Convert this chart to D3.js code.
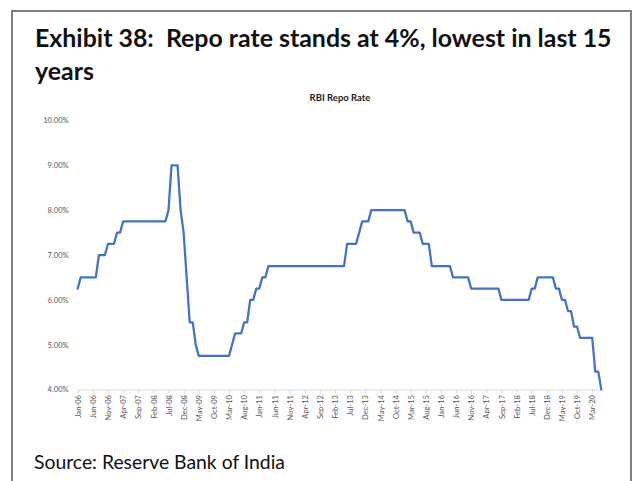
<!DOCTYPE html>
<html>
<head>
<meta charset="utf-8">
<script src="https://cdn.jsdelivr.net/npm/d3@7"></script>
<style>
  body { margin: 0; background: #ffffff; }
  svg { display: block; font-family: Lato, "Open Sans", "Noto Sans", sans-serif; }
  .keep-spaces { white-space: pre; }
</style>
</head>
<body>
<svg id="chart" width="636" height="481"></svg>
<script>
// Monthly categories, Jan-06 through Jun-20
const firstMonth = new Date(2006, 0, 1);
const afterLastMonth = new Date(2020, 6, 1);
const months = d3.timeMonth.range(firstMonth, afterLastMonth).map(d3.timeFormat("%b-%y"));

// RBI repo rate (%), one value per month
const repoRate = [
  6.25, 6.5, 6.5, 6.5, 6.5, 6.5, 6.5, 7.0, 7.0, 7.0, 7.25, 7.25,            // 2006
  7.25, 7.5, 7.5, 7.75, 7.75, 7.75, 7.75, 7.75, 7.75, 7.75, 7.75, 7.75,     // 2007
  7.75, 7.75, 7.75, 7.75, 7.75, 7.75, 8.0, 9.0, 9.0, 9.0, 8.0, 7.5,         // 2008
  6.5, 5.5, 5.5, 5.0, 4.75, 4.75, 4.75, 4.75, 4.75, 4.75, 4.75, 4.75,       // 2009
  4.75, 4.75, 4.75, 5.0, 5.25, 5.25, 5.25, 5.5, 5.5, 6.0, 6.0, 6.25,        // 2010
  6.25, 6.5, 6.5, 6.75, 6.75, 6.75, 6.75, 6.75, 6.75, 6.75, 6.75, 6.75,     // 2011
  6.75, 6.75, 6.75, 6.75, 6.75, 6.75, 6.75, 6.75, 6.75, 6.75, 6.75, 6.75,   // 2012
  6.75, 6.75, 6.75, 6.75, 6.75, 7.25, 7.25, 7.25, 7.25, 7.5, 7.75, 7.75,    // 2013
  7.75, 8.0, 8.0, 8.0, 8.0, 8.0, 8.0, 8.0, 8.0, 8.0, 8.0, 8.0,              // 2014
  8.0, 7.75, 7.75, 7.5, 7.5, 7.5, 7.25, 7.25, 7.25, 6.75, 6.75, 6.75,       // 2015
  6.75, 6.75, 6.75, 6.75, 6.5, 6.5, 6.5, 6.5, 6.5, 6.5, 6.25, 6.25,         // 2016
  6.25, 6.25, 6.25, 6.25, 6.25, 6.25, 6.25, 6.25, 6.0, 6.0, 6.0, 6.0,       // 2017
  6.0, 6.0, 6.0, 6.0, 6.0, 6.0, 6.25, 6.25, 6.5, 6.5, 6.5, 6.5,             // 2018
  6.5, 6.5, 6.25, 6.25, 6.0, 6.0, 5.75, 5.75, 5.4, 5.4, 5.15, 5.15,         // 2019
  5.15, 5.15, 5.15, 4.4, 4.4, 4.0                                           // 2020
];

// Labelled categories on the x axis (every fifth month)
const xTickLabels = [
  "Jan-06", "Jun-06", "Nov-06", "Apr-07", "Sep-07", "Feb-08", "Jul-08", "Dec-08",
  "May-09", "Oct-09", "Mar-10", "Aug-10", "Jan-11", "Jun-11", "Nov-11", "Apr-12",
  "Sep-12", "Feb-13", "Jul-13", "Dec-13", "May-14", "Oct-14", "Mar-15", "Aug-15",
  "Jan-16", "Jun-16", "Nov-16", "Apr-17", "Sep-17", "Feb-18", "Jul-18", "Dec-18",
  "May-19", "Oct-19", "Mar-20"
];
const yTickValues = [4, 5, 6, 7, 8, 9, 10];

const titleLines = ["Exhibit 38:  Repo rate stands at 4%, lowest in last 15", "years"];
const chartTitle = "RBI Repo Rate";
const sourceNote = "Source: Reserve Bank of India";

const svg = d3.select("#chart");

// Exhibit frame (open at the bottom)
svg.append("path")
  .attr("d", "M12,481 V11 H631 V481")
  .attr("fill", "none")
  .attr("stroke", "#7f7f7f")
  .attr("stroke-width", 2);

// Scale a text run's font size so it spans the given width
function fitText(sel, targetWidth) {
  const node = sel.node();
  const fs = parseFloat(sel.attr("font-size"));
  const w = node.getComputedTextLength();
  sel.attr("font-size", (fs * targetWidth / w).toFixed(2));
}

const t1 = svg.append("text")
  .attr("class", "keep-spaces")
  .attr("x", 35).attr("y", 47)
  .attr("font-size", 22).attr("font-weight", 700).attr("fill", "#111")
  .text(titleLines[0]);
fitText(t1, 577);
svg.append("text")
  .attr("x", 35).attr("y", 79.5)
  .attr("font-size", t1.attr("font-size")).attr("font-weight", 700).attr("fill", "#111")
  .text(titleLines[1]);

const src = svg.append("text")
  .attr("x", 34).attr("y", 469)
  .attr("font-size", 18).attr("fill", "#111")
  .text(sourceNote);
fitText(src, 251);

// Plot scales
const x = d3.scalePoint().domain(months).range([77.7, 601.3]);
const y = d3.scaleLinear().domain([4, 10]).range([389.5, 120.5]);

svg.append("text")
  .attr("x", 340).attr("y", 101)
  .attr("text-anchor", "middle")
  .attr("font-size", 9.5).attr("font-weight", 700).attr("fill", "#222")
  .text(chartTitle);

// Y axis: labels only
const yAxis = svg.append("g")
  .attr("transform", "translate(77.7,0)")
  .call(d3.axisLeft(y).tickValues(yTickValues).tickSize(0).tickPadding(9)
    .tickFormat(d => d3.format(".2f")(d) + "%"));
yAxis.select(".domain").remove();
yAxis.selectAll("text")
  .attr("font-size", 7.6).attr("fill", "#595959")
  .attr("font-family", "Lato, 'Open Sans', sans-serif");

// X axis: category axis with rotated labels
const xAxis = svg.append("g")
  .attr("transform", "translate(0,389.5)")
  .call(d3.axisBottom(x).tickValues(xTickLabels).tickSize(4).tickSizeOuter(0));
xAxis.select(".domain").attr("stroke", "#d9d9d9");
xAxis.selectAll(".tick line").attr("stroke", "#d9d9d9");
xAxis.selectAll(".tick text")
  .attr("transform", "rotate(-90)")
  .attr("text-anchor", "end")
  .attr("x", -5.5).attr("y", 0).attr("dy", "0.35em")
  .attr("font-size", 7.6).attr("fill", "#595959")
  .attr("font-family", "Lato, 'Open Sans', sans-serif");

// Repo rate line
const line = d3.line()
  .x((d, i) => x(months[i]))
  .y(d => y(d));
svg.append("path")
  .datum(repoRate)
  .attr("d", line)
  .attr("fill", "none")
  .attr("stroke", "#4472c4")
  .attr("stroke-width", 2.25)
  .attr("stroke-linejoin", "round")
  .attr("stroke-linecap", "round");
</script>
</body>
</html>
